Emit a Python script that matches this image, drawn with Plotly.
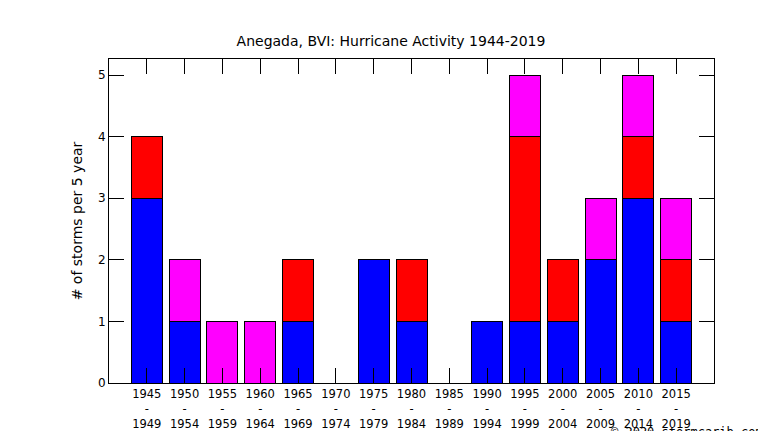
import plotly.graph_objects as go

periods = ["1945<br>-<br>1949", "1950<br>-<br>1954", "1955<br>-<br>1959", "1960<br>-<br>1964",
           "1965<br>-<br>1969", "1970<br>-<br>1974", "1975<br>-<br>1979", "1980<br>-<br>1984",
           "1985<br>-<br>1989", "1990<br>-<br>1994", "1995<br>-<br>1999", "2000<br>-<br>2004",
           "2005<br>-<br>2009", "2010<br>-<br>2014", "2015<br>-<br>2019"]
blue = [3, 1, 0, 0, 1, 0, 2, 1, 0, 1, 1, 1, 2, 3, 1]
red = [1, 0, 0, 0, 1, 0, 0, 1, 0, 0, 3, 1, 0, 1, 1]
magenta = [0, 1, 1, 1, 0, 0, 0, 0, 0, 0, 1, 0, 1, 1, 1]

xs = list(range(len(periods)))
fig = go.Figure()
for vals, col in [(blue, "#0000ff"), (red, "#ff0000"), (magenta, "#ff00ff")]:
    fig.add_trace(go.Bar(x=xs, y=vals, marker=dict(color=col, line=dict(color="black", width=1)),
                         width=0.82, showlegend=False))

fig.update_layout(
    barmode="stack", width=766, height=431, plot_bgcolor="white", paper_bgcolor="white",
    margin=dict(l=101, r=60, t=51, b=56, autoexpand=False),
    font=dict(family="DejaVu Sans", size=12, color="black"),
    title=dict(text="Anegada, BVI: Hurricane Activity 1944-2019", x=0.5, y=0.923,
               xanchor="center", yanchor="middle", font=dict(size=14)),
)
fig.update_xaxes(range=[-1, 15], tickvals=xs, ticktext=periods, ticks="inside", ticklen=15,
                 tickcolor="black", showline=True, linecolor="black", mirror="ticks",
                 showgrid=False, zeroline=False, tickangle=0, automargin=False,
                 tickfont=dict(size=11.5))
fig.update_yaxes(range=[0, 5.26], tickvals=[0, 1, 2, 3, 4, 5], ticks="inside", ticklen=15,
                 tickcolor="black", showline=True, linecolor="black", mirror="ticks",
                 showgrid=False, zeroline=False, automargin=False,
                 title=dict(text="# of storms per 5 year", standoff=12))
fig.add_annotation(text="© 2020 stormcarib.com", xref="paper", yref="paper", x=1.085, y=-0.151,
                   xanchor="right", yanchor="middle", showarrow=False,
                   font=dict(family="DejaVu Sans Mono", size=12))
fig.write_html("out.html")
